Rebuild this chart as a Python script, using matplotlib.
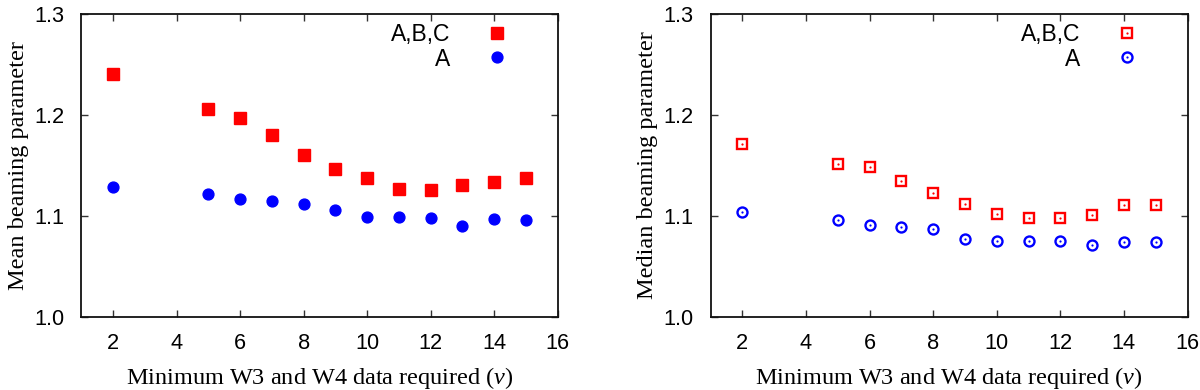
import matplotlib
matplotlib.use("Agg")
import matplotlib.pyplot as plt

nu = [2, 5, 6, 7, 8, 9, 10, 11, 12, 13, 14, 15]
mean_abc = [1.241, 1.206, 1.197, 1.180, 1.160, 1.147, 1.138, 1.127, 1.126, 1.131, 1.134, 1.138]
mean_a = [1.129, 1.122, 1.117, 1.115, 1.112, 1.106, 1.099, 1.099, 1.098, 1.090, 1.097, 1.096]
median_abc = [1.171, 1.151, 1.148, 1.135, 1.123, 1.112, 1.102, 1.098, 1.098, 1.101, 1.111, 1.111]
median_a = [1.104, 1.096, 1.091, 1.089, 1.087, 1.077, 1.075, 1.075, 1.075, 1.071, 1.074, 1.074]

xticks = [2, 4, 6, 8, 10, 12, 14, 16]
yticks = [1.0, 1.1, 1.2, 1.3]
xlabel = "Minimum W3 and W4 data required ($\\nu$)"
ylabels = ["Mean beaming parameter", "Median beaming parameter"]
labels = ["A,B,C", "A"]

RED = "#ff0000"
BLUE = "#0000ff"

plt.rcParams["mathtext.fontset"] = "custom"
plt.rcParams["mathtext.it"] = "Liberation Serif:italic"
plt.rcParams["mathtext.rm"] = "Liberation Serif"

fig = plt.figure(figsize=(12, 3.9), dpi=100)
axL = fig.add_axes([0.0679, 0.188, 0.3967, 0.7754])
axR = fig.add_axes([0.5921, 0.188, 0.3975, 0.7754])

def style(ax, ylabel):
    ax.set_xlim(1, 16)
    ax.set_ylim(1.0, 1.3)
    ax.set_xticks(xticks)
    ax.set_yticks(yticks)
    ax.set_xticklabels([str(t) for t in xticks], family="Liberation Sans", fontsize=15.7)
    ax.set_yticklabels(["%.1f" % t for t in yticks], family="Liberation Sans", fontsize=15.7)
    ax.tick_params(direction="in", length=5, width=1, top=True, right=True, color="#333333")
    ax.tick_params(axis="x", pad=12)
    ax.tick_params(axis="y", pad=12)
    for s in ax.spines.values():
        s.set_linewidth(1.3)
        s.set_color("#111111")
    ax.set_xlabel(xlabel, family="Liberation Serif", fontsize=17.5, labelpad=8)
    ax.set_ylabel(ylabel, family="Liberation Serif", fontsize=17.5, labelpad=4)

# Left panel: filled markers
axL.plot(nu, mean_abc, linestyle="none", marker="s", ms=8.0, mfc=RED, mec=RED, label=labels[0])
axL.plot(nu, mean_a, linestyle="none", marker="o", ms=7.8, mfc=BLUE, mec=BLUE, label=labels[1])
style(axL, ylabels[0])

# Right panel: open markers with central dot
hR1, = axR.plot(nu, median_abc, linestyle="none", marker="s", ms=7.4, mfc="none", mec=RED, mew=1.7)
dR1, = axR.plot(nu, median_abc, linestyle="none", marker="o", ms=1.6, mfc=RED, mec=RED, mew=0)
hR2, = axR.plot(nu, median_a, linestyle="none", marker="o", ms=7.2, mfc="none", mec=BLUE, mew=1.7)
dR2, = axR.plot(nu, median_a, linestyle="none", marker="o", ms=1.6, mfc=BLUE, mec=BLUE, mew=0)
style(axR, ylabels[1])

legkw = dict(loc="upper right", bbox_to_anchor=(0.9165, 1.001), frameon=False,
             markerfirst=False, numpoints=1,
             handlelength=1.0, handletextpad=1.55, labelspacing=0.06,
             borderaxespad=0.0, borderpad=0.4,
             prop={"family": "Liberation Sans", "size": 16.5})
axL.legend(**legkw)
axR.legend([(hR1, dR1), (hR2, dR2)], labels, **legkw)

fig.savefig("out.png", dpi=100)
